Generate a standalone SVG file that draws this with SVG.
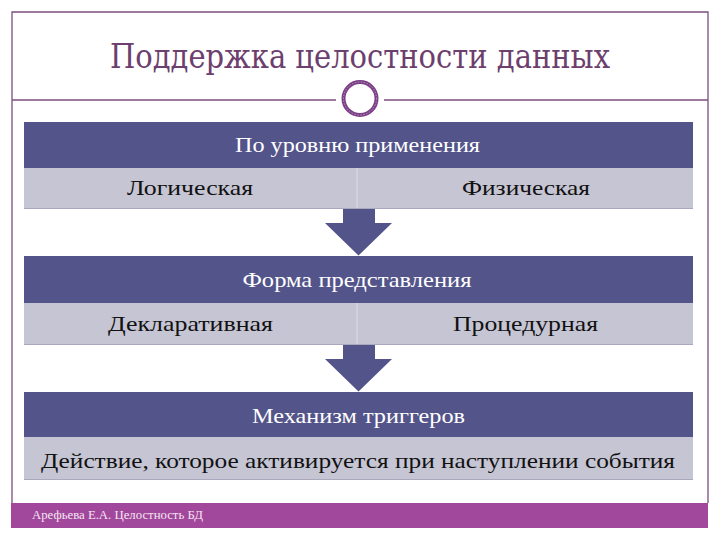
<svg xmlns="http://www.w3.org/2000/svg" width="720" height="540" viewBox="0 0 720 540">
<style>
.frame{fill:none;stroke:#7b4f7b;stroke-width:1.3}
.bar{fill:#53548a}
.row{fill:#c6c5d4}
.shadow{fill:#a9a8bd}
.div{stroke:#d4d3df;stroke-width:1.5}
.t{font-family:'Liberation Serif','Times New Roman','DejaVu Serif',serif;text-anchor:middle}
.w{fill:#ffffff;font-size:21px}
.k{fill:#111111;font-size:21px}
.arrow{fill:#53548a}
</style>
<rect width="720" height="540" fill="#ffffff"/>
<g id="frame">
<path class="frame" d="M12,503 V12 H708 V503"/>
<line x1="12" y1="100" x2="336" y2="100" stroke="#7b4f7b" stroke-width="1.3"/>
<line x1="384" y1="100" x2="708" y2="100" stroke="#7b4f7b" stroke-width="1.3"/>
<circle cx="360" cy="98.5" r="16.5" fill="#ffffff" stroke="#7b3f86" stroke-width="4"/>
<circle cx="360" cy="98.5" r="16.5" fill="none" stroke="#c9a6cf" stroke-width="0.8" stroke-dasharray="1.5 1.5"/>
</g>
<g id="title">
<text x="360" y="68" font-family="DejaVu Serif, serif" text-anchor="middle" font-size="34" fill="#6d3f6e" textLength="500" lengthAdjust="spacingAndGlyphs">Поддержка целостности данных</text>
</g>
<g id="connectors">
<path class="arrow" d="M343,208 H375 V223 H392 L358.5,255.5 L325,223 H343 Z"/>
<path class="arrow" d="M343,344 H375 V359 H392 L358.5,391.5 L325,359 H343 Z"/>
</g>
<g id="block1">
<rect class="bar" x="24" y="122" width="669" height="46"/>
<rect class="shadow" x="24" y="207" width="669" height="2"/>
<rect class="row" x="24" y="168" width="669" height="40"/>
<line class="div" x1="357" y1="168" x2="357" y2="208"/>
<text class="t w" x="357.5" y="152" textLength="245" lengthAdjust="spacingAndGlyphs">По уровню применения</text>
<text class="t k" x="190" y="195" textLength="126" lengthAdjust="spacingAndGlyphs">Логическая</text>
<text class="t k" x="526" y="195" textLength="128" lengthAdjust="spacingAndGlyphs">Физическая</text>
</g>
<g id="block2">
<rect class="bar" x="24" y="256" width="669" height="47"/>
<rect class="shadow" x="24" y="343" width="669" height="2"/>
<rect class="row" x="24" y="303" width="669" height="41"/>
<line class="div" x1="357" y1="303" x2="357" y2="344"/>
<text class="t w" x="357" y="287" textLength="229" lengthAdjust="spacingAndGlyphs">Форма представления</text>
<text class="t k" x="190.5" y="331" textLength="165" lengthAdjust="spacingAndGlyphs">Декларативная</text>
<text class="t k" x="525.5" y="331" textLength="145" lengthAdjust="spacingAndGlyphs">Процедурная</text>
</g>
<g id="block3">
<rect class="bar" x="24" y="392" width="669" height="45"/>
<rect class="shadow" x="24" y="478" width="669" height="2"/>
<rect class="row" x="24" y="437" width="669" height="42"/>
<text class="t w" x="358.5" y="423" textLength="213" lengthAdjust="spacingAndGlyphs">Механизм триггеров</text>
<text class="t k" x="358" y="468" font-size="23" textLength="634" lengthAdjust="spacingAndGlyphs">Действие, которое активируется при наступлении события</text>
</g>
<g id="footer">
<rect x="11" y="503" width="697" height="25" fill="#a2489c"/>
<text x="32" y="519" font-family="'Liberation Serif', serif" font-size="12" fill="#f4e6f2" textLength="171" lengthAdjust="spacingAndGlyphs">Арефьева Е.А. Целостность БД</text>
</g>
</svg>
